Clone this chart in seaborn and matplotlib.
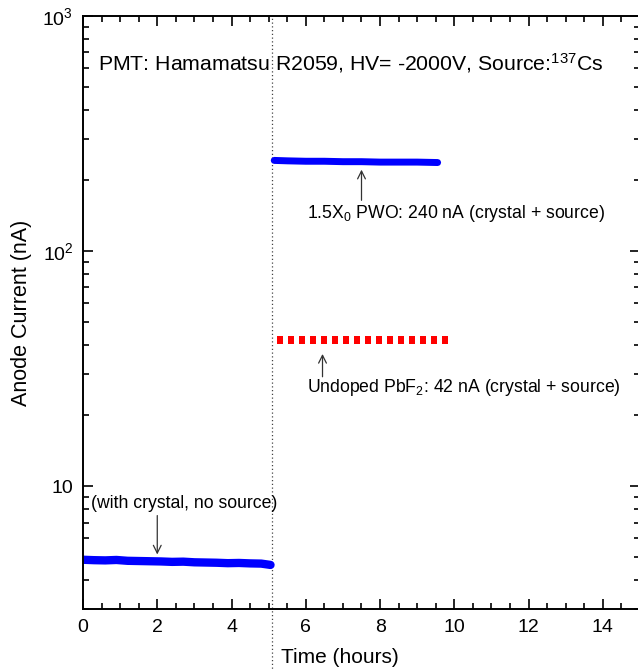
import matplotlib
matplotlib.use("Agg")
import matplotlib.pyplot as plt
import matplotlib.ticker as mticker
import seaborn as sns

# Background run: crystal in place, no source
bg_time = [0.0, 0.3, 0.6, 0.9, 1.2, 1.5, 1.8, 2.1, 2.4, 2.7, 3.0, 3.3,
           3.6, 3.9, 4.2, 4.5, 4.8, 5.05]
bg_current = [4.86, 4.84, 4.83, 4.85, 4.81, 4.80, 4.79, 4.78, 4.76, 4.77,
              4.74, 4.73, 4.72, 4.70, 4.71, 4.69, 4.68, 4.62]

# 1.5 X0 PWO crystal with source
pwo_time = [5.15, 5.5, 6.0, 6.5, 7.0, 7.5, 8.0, 8.5, 9.0, 9.55]
pwo_current = [243, 242, 241, 241, 240, 240, 239, 239, 239, 238]

# Undoped PbF2 crystal with source
pbf_time = [5.3, 5.6, 5.9, 6.19, 6.49, 6.78, 7.08, 7.38, 7.67, 7.97, 8.27,
            8.56, 8.86, 9.16, 9.45, 9.75]
pbf_current = [42, 42, 42, 42, 42, 42, 42, 42, 42, 42, 42, 42,
               42, 42, 42, 42]

source_switch = 5.1
x_ticks = [0, 2, 4, 6, 8, 10, 12, 14]

sns.set_theme(style="ticks")
plt.rcParams["font.family"] = ["Liberation Sans", "DejaVu Sans"]
plt.rcParams["mathtext.fontset"] = "custom"
plt.rcParams["mathtext.rm"] = "Liberation Sans"
plt.rcParams["mathtext.it"] = "Liberation Sans:italic"
plt.rcParams["mathtext.default"] = "regular"
for key in ("text.color", "axes.labelcolor", "xtick.color", "ytick.color",
            "xtick.labelcolor", "ytick.labelcolor"):
    plt.rcParams[key] = "black"

W, H = 638, 671
fig = plt.figure(figsize=(W / 100, H / 100), dpi=100)
ax = fig.add_axes([83 / W, 1 - 609 / H, (640 - 83) / W, (609 - 16) / H])

sns.lineplot(x=bg_time, y=bg_current, ax=ax, color="#0000ff", lw=6,
             solid_capstyle="round", sort=True, estimator=None)
sns.lineplot(x=pwo_time, y=pwo_current, ax=ax, color="#0000ff", lw=5,
             solid_capstyle="round", sort=True, estimator=None)
rect = [(-0.39, -0.5), (0.39, -0.5), (0.39, 0.5), (-0.39, 0.5), (-0.39, -0.5)]
sns.scatterplot(x=pbf_time, y=pbf_current, ax=ax, color="#ff0000",
                marker=rect, s=30, linewidth=0)

ax.set_yscale("log")
ax.set_xlim(0, 15)
ax.set_ylim(3, 1000)

# dotted marker where the source was inserted, running below the axis
ax.axvline(source_switch, ymin=-0.11, ymax=1, color="#444444", lw=0.9,
           ls=(0, (1, 2)), clip_on=False, zorder=1)

ax.set_xticks(x_ticks)
ax.xaxis.set_minor_locator(mticker.MultipleLocator(0.5))
ax.yaxis.set_major_locator(mticker.FixedLocator([10, 100, 1000]))
ax.yaxis.set_minor_locator(mticker.LogLocator(base=10, subs=range(2, 10)))
ax.yaxis.set_minor_formatter(mticker.NullFormatter())


def ylab(v, pos):
    if v == 10:
        return "10"
    if v == 100:
        return "$10^2$"
    if v == 1000:
        return "$10^3$"
    return ""


ax.yaxis.set_major_formatter(mticker.FuncFormatter(ylab))

ax.tick_params(which="both", direction="in", top=True, right=True,
               color="black", labelcolor="black", width=1.2)
ax.tick_params(which="major", length=7.5, labelsize=14, pad=7)
ax.tick_params(which="minor", length=4)
for s in ax.spines.values():
    s.set_linewidth(1.4)
    s.set_color("black")

ax.set_xlabel("Time (hours)", fontsize=15, color="black")
ax.set_ylabel("Anode Current (nA)", fontsize=15.5, color="black")
ax.xaxis.set_label_coords((340 - 83) / (640 - 83), -0.065)
ax.yaxis.set_label_coords(-0.092, 0.5)

ax.text(0.4, 629, "PMT: Hamamatsu R2059, HV= -2000V, Source:$^{137}$Cs",
        fontsize=15.3, va="center", ha="left", color="black")

arrow = dict(arrowstyle="->", color="#333333", lw=0.9, mutation_scale=14)
ax.annotate("", xy=(7.5, 228), xytext=(7.5, 160), arrowprops=arrow)
ax.text(6.02, 144, "1.5X$_0$ PWO: 240 nA (crystal + source)",
        fontsize=12.7, va="center", ha="left", color="black")

ax.annotate("", xy=(6.45, 37.5), xytext=(6.45, 28.4), arrowprops=arrow)
ax.text(6.02, 26.3, "Undoped PbF$_2$: 42 nA (crystal + source)",
        fontsize=12.7, va="center", ha="left", color="black")

ax.annotate("", xy=(2.0, 4.98), xytext=(2.0, 7.7), arrowprops=arrow)
ax.text(0.22, 8.4, "(with crystal, no source)",
        fontsize=12.7, va="center", ha="left", color="black")

fig.savefig("out.png", dpi=100)
